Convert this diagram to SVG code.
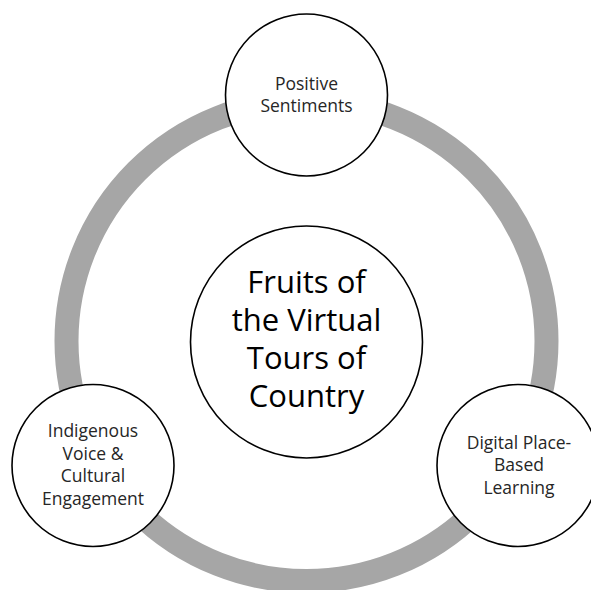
<svg xmlns="http://www.w3.org/2000/svg" width="591" height="590" viewBox="0 0 591 590">
<style>
.ring{fill:none;stroke:#a6a6a6;stroke-width:24}
.node{fill:#fff;stroke:#000;stroke-width:1.6}
.lbl{font-family:"Open Sans","Noto Sans",sans-serif;font-size:17.5px;fill:#262626;text-anchor:middle}
.big{font-family:"Open Sans","Noto Sans",sans-serif;font-size:31px;fill:#000;text-anchor:middle}
</style>
<rect width="591" height="590" fill="#fff"/>
<g id="connectors">
<circle class="ring" cx="306.5" cy="341" r="240"/>
</g>
<g id="center">
<circle class="node" cx="306.5" cy="342" r="116"/>
<text class="big" x="306.5"><tspan x="306.5" y="293">Fruits of</tspan><tspan x="306.5" y="331">the Virtual</tspan><tspan x="306.5" y="369">Tours of</tspan><tspan x="306.5" y="407">Country</tspan></text>
</g>
<g id="positive-sentiments">
<circle class="node" cx="306.5" cy="95" r="81"/>
<text class="lbl"><tspan x="306.5" y="89.5">Positive</tspan><tspan x="306.5" y="111.5">Sentiments</tspan></text>
</g>
<g id="indigenous-voice">
<circle class="node" cx="93" cy="465.5" r="81"/>
<text class="lbl"><tspan x="93" y="437">Indigenous</tspan><tspan x="93" y="459.5">Voice &amp;</tspan><tspan x="93" y="482">Cultural</tspan><tspan x="93" y="504.5">Engagement</tspan></text>
</g>
<g id="digital-place-based">
<circle class="node" cx="518" cy="465.5" r="81"/>
<text class="lbl"><tspan x="519" y="448.5">Digital Place-</tspan><tspan x="519" y="471">Based</tspan><tspan x="519" y="493.5">Learning</tspan></text>
</g>
</svg>
